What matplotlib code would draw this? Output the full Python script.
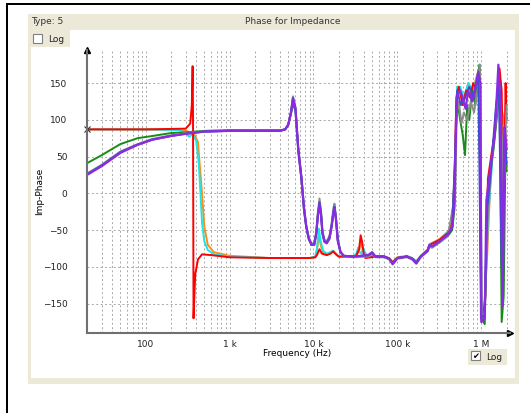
import matplotlib.pyplot as plt
from matplotlib.patches import Rectangle

# ---- data (frequency in Hz, phase in degrees) ----
# capacitive group (red / orange / cyan): flat ~87 deg then drop near 400 Hz
f_red = [20, 100, 300, 340, 355, 363, 367, 372, 378, 390, 420, 470, 600, 1000, 3000, 9000, 10500,
         11000, 11800, 12600, 14400, 16000, 17200, 18500, 20000, 25000, 32000, 35000, 36500,
         38000, 40000, 42000, 55000,
         70000, 80000, 88000, 100000, 130000, 150000, 168000, 190000, 230000, 245000, 320000,
         400000, 450000, 480000, 505000, 540000, 600000, 660000, 740000, 800000, 880000,
         950000, 990000, 1050000, 1120000, 1200000, 1350000, 1500000, 1650000, 1750000,
         1850000, 1950000, 2000000]
p_red = [87, 87, 88, 95, 120, 173, 100, -170, -150, -110, -90, -83, -84, -87, -88, -88, -87,
         -84, -76, -82, -84, -82, -79, -83, -86, -86, -86, -76, -57,
         -66, -84, -88, -86,
         -86, -89, -94, -88, -86, -89, -94, -86, -77, -70, -63,
         -54, -40, 20, 130, 145, 120, 140, 130, 150, 140,
         170, -170, -170, -140, 20, 60, 95, 170, 140,
         -20, 150, 100]

f_orange = [20, 100, 250, 300, 340, 380, 420, 440, 470, 500, 550, 650, 1000, 3000, 9000, 10500,
            11000, 11600, 12300, 13200, 14400, 16000, 17200, 18500, 20000, 25000, 32000, 35000,
            36500, 38000, 40000, 42000, 55000,
            70000, 80000, 88000, 100000, 130000, 150000, 168000, 190000, 230000, 245000, 320000,
            400000, 450000, 490000, 510000, 560000, 620000, 700000, 780000, 860000, 940000,
            1000000, 1080000, 1180000, 1300000, 1450000, 1600000, 1720000, 1850000, 2000000]
p_orange = [87, 87, 86, 85, 83, 80, 70, 40, 0, -45, -70, -80, -85, -88, -88, -87,
            -78, -58, -72, -82, -84, -81, -78, -82, -86, -86, -86, -78,
            -64, -72, -82, -86, -86,
            -86, -88, -93, -87, -85, -88, -93, -85, -76, -69, -62,
            -52, -42, 40, 135, 140, 125, 150, 135, 155, 170,
            -168, -160, -80, 30, 90, 150, 120, 100, 70]

f_cyan = [20, 100, 250, 300, 330, 360, 400, 430, 450, 470, 500, 550, 650, 1000, 3000, 9000,
          10500, 11000, 11600, 12200, 13000, 14400, 16000, 17000, 18500, 20000, 30000, 32500,
          34000, 35500, 37500, 39000, 41000, 45000, 55000, 70000, 80000, 88000, 100000, 130000,
          150000, 168000,
          190000, 230000, 245000, 320000, 400000, 450000, 495000, 515000, 560000, 620000,
          700000, 800000, 900000, 960000, 1010000, 1100000, 1200000, 1350000, 1500000,
          1650000, 1800000, 2000000]
p_cyan = [87, 87, 86, 82, 77, 80, 72, 40, 0, -40, -65, -77, -83, -86, -88, -88,
          -86, -75, -48, -65, -78, -82, -80, -78, -82, -86, -86, -82,
          -74, -80, -82, -74, -80, -86, -86, -87, -89, -94, -88, -86,
          -88, -92,
          -85, -77, -69, -63, -53, -45, 60, 145, 145, 130,
          150, 140, 160, 175, -172, -150, -40, 45, 110,
          160, 90, 60]

# inductive group (green / gray / blue / purple): rising start, resonance near 6 kHz
f_b = [20, 30, 50, 80, 120, 200, 300, 500, 1000, 2000, 4000, 4600, 5000, 5400, 5700, 6100,
       6600, 7200, 7700, 8200, 8800, 9500, 10200, 10800, 11300, 11800, 12300, 12800, 13500,
       14400, 15500, 16500, 17300, 17800, 18500, 19500, 21000, 23000,
       30000, 45000, 50000, 55000, 70000, 80000, 88000, 100000, 130000,
       150000, 168000, 190000, 230000, 240000, 260000, 320000, 400000, 450000]
p_green = [41, 52, 67, 75, 78, 82, 83, 85, 86, 86, 86, 87, 93, 108, 122, 112,
           58, 18, -22, -46, -62, -70, -70, -55, -30, -12, -28, -54, -65,
           -67, -61, -44, -25, -18, -33, -64, -80, -85,
           -86, -85, -82, -86, -86, -89, -96, -88, -86,
           -89, -95, -86, -78, -72, -73, -66, -58, -50]
p_gray = [27, 39, 57, 67, 74, 79, 82, 84, 85, 85, 85, 87, 94, 112, 132, 118,
          62, 22, -18, -43, -60, -68, -68, -52, -25, -7, -23, -50, -63,
          -65, -58, -40, -20, -14, -30, -62, -80, -86,
          -87, -86, -83, -87, -87, -90, -97, -89, -87,
          -90, -96, -87, -79, -73, -74, -67, -58, -48]
p_blue = [26, 38, 56, 66, 73, 78, 81, 84, 85, 85, 85, 87, 93, 110, 130, 116,
          60, 20, -20, -45, -62, -70, -70, -54, -28, -12, -27, -53, -65,
          -67, -60, -43, -24, -18, -33, -64, -80, -85,
          -86, -84, -81, -86, -86, -89, -95, -88, -86,
          -89, -95, -86, -78, -71, -72, -65, -56, -46]
p_purple = [25, 37, 55, 66, 73, 78, 81, 84, 85, 85, 85, 87, 93, 110, 129, 115,
            58, 20, -20, -45, -62, -70, -70, -55, -30, -16, -30, -55, -66,
            -68, -62, -45, -27, -21, -35, -65, -80, -85,
            -86, -84, -80, -86, -86, -89, -96, -88, -86,
            -89, -95, -86, -78, -70, -72, -65, -56, -46]

# chaotic part above ~480 kHz
f_green_hi = [480000, 500000, 520000, 560000, 600000, 640000, 680000, 720000, 780000, 850000,
              900000, 950000, 1000000, 1100000, 1150000, 1250000, 1400000, 1550000, 1650000,
              1750000, 1850000, 1950000, 2000000]
p_green_hi = [-20, 90, 125, 100, 80, 52, 120, 100, 140, 120,
              150, 175, -170, -178, -60, 20, 60, 110, 140,
              -175, -140, 70, 30]
f_gray_hi = [490000, 510000, 540000, 580000, 620000, 680000, 750000, 820000, 900000, 960000,
             1020000, 1100000, 1200000, 1350000, 1500000, 1620000, 1720000, 1850000, 2000000]
p_gray_hi = [0, 110, 125, 95, 110, 100, 125, 110, 140, 175,
             -175, -160, -30, 50, 100, 155, 110, 0, 120]
f_blue_hi = [495000, 515000, 570000, 640000, 720000, 820000, 920000, 1000000, 1100000,
             1180000, 1300000, 1500000, 1620000, 1750000, 1900000, 2000000]
p_blue_hi = [70, 140, 120, 130, 145, 130, 165, -170, -165,
             -20, 30, 120, 150, -100, 80, 40]
f_purple_hi = [480000, 500000, 520000, 560000, 600000, 650000, 700000, 780000, 850000, 920000,
               980000, 1000000, 1100000, 1150000, 1300000, 1450000, 1600000, 1700000, 1800000,
               1900000, 2000000]
p_purple_hi = [-10, 100, 135, 140, 130, 115, 140, 125, 145, 165,
               150, -175, -170, -10, 40, 80, 175, 120, -153, 90, 60]

y_ticks = [-150, -100, -50, 0, 50, 100, 150]
x_ticks = [100, 1000, 10000, 100000, 1000000]
x_labels = ['100', '1 k', '10 k', '100 k', '1 M']

W, H = 530, 413
fig = plt.figure(figsize=(W / 100, H / 100), dpi=100)
fig.patch.set_facecolor('white')


def box(x, y, w, h, **kw):
    # pixel rectangle (top-left origin) in figure coords, drawn behind the axes
    fig.add_artist(Rectangle((x / W, 1 - (y + h) / H), w / W, h / H,
                             transform=fig.transFigure, zorder=-5, **kw))


beige = '#ece9d8'
box(28, 14, 491, 370, facecolor=beige, edgecolor='none')
box(31, 30, 484, 348, facecolor='white', edgecolor='none')
box(31, 30, 39, 17, facecolor=beige, edgecolor='none')
box(468, 349, 39, 16, facecolor=beige, edgecolor='none')
# window frame lines
box(6, 3, 2, 410, facecolor='black', edgecolor='none')
box(6, 3, 524, 2, facecolor='black', edgecolor='none')
# checkboxes
box(33, 34, 9, 9, facecolor='white', edgecolor='#808080', linewidth=0.8)
box(471, 351, 9, 9, facecolor='white', edgecolor='#808080', linewidth=0.8)
fig.text(472 / W, 1 - 356 / H, '\u2714', fontsize=6, va='center', ha='left',
         family=['DejaVu Sans'])

fs = 6.5
fig.text(31 / W, 1 - 22 / H, 'Type: 5', fontsize=fs, va='center', color='#333333')
fig.text(293 / W, 1 - 21 / H, 'Phase for Impedance', fontsize=fs, va='center',
         ha='center', color='#333333')
fig.text(48 / W, 1 - 39 / H, 'Log', fontsize=fs, va='center', color='#222222')
fig.text(486 / W, 1 - 357 / H, 'Log', fontsize=fs, va='center', color='#222222')

ax = fig.add_axes([87 / W, 1 - 333 / H, (510 - 87) / W, (333 - 50) / H])
ax.set_facecolor('none')
ax.set_xscale('log')
ax.set_xlim(20, 2.2e6)
ax.set_ylim(-190, 195)

ax.plot(f_orange, p_orange, color='#ff8c1a', lw=1.4)
ax.plot(f_cyan, p_cyan, color='#1de5e5', lw=1.4)
ax.plot(f_red, p_red, color='#ff0000', lw=1.4)
ax.plot(f_b + f_green_hi, p_green + p_green_hi, color='#1a8a1a', lw=1.4)
ax.plot(f_b[:-1] + f_gray_hi, p_gray[:-1] + p_gray_hi, color='#8c8c8c', lw=1.4)
ax.plot(f_b + f_blue_hi, p_blue + p_blue_hi, color='#3a4fd0', lw=1.4)
ax.plot(f_b + f_purple_hi, p_purple + p_purple_hi, color='#8a2be2', lw=1.6)
ax.plot([20], [87], marker='x', color='#333333', ms=5, mew=0.8, clip_on=False)

ax.set_yticks(y_ticks)
ax.set_xticks(x_ticks)
ax.set_xticklabels(x_labels)
ax.tick_params(which='both', length=0, labelsize=fs, colors='#222222')
ax.tick_params(axis='y', pad=14)
ax.tick_params(axis='x', pad=5)
ax.grid(True, which='both', axis='x', color='#a8a8a8', ls=(0, (2, 2.5)), lw=0.7)
ax.grid(True, which='major', axis='y', color='#a8a8a8', ls=(0, (2, 2.5)), lw=0.7)
ax.set_ylabel('Imp-Phase', fontsize=fs)
ax.yaxis.set_label_coords(-43 / (510 - 87), 0.5)
ax.set_xlabel('Frequency (Hz)', fontsize=fs)
ax.xaxis.set_label_coords((297 - 87) / (510 - 87), -16 / (333 - 50))

for s in ['top', 'right']:
    ax.spines[s].set_visible(False)
for s in ['left', 'bottom']:
    ax.spines[s].set_color('#707070')
    ax.spines[s].set_linewidth(1.5)
ax.plot([0], [1], marker='^', color='black', ms=5, transform=ax.transAxes, clip_on=False)
ax.plot([1], [0], marker='>', color='black', ms=5, transform=ax.transAxes, clip_on=False)

plt.savefig('out.png', dpi=100)
